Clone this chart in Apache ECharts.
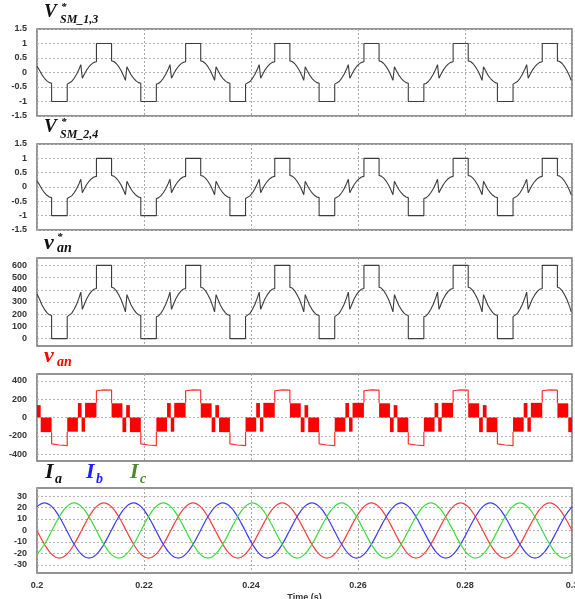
<!DOCTYPE html>
<html>
<head>
<meta charset="utf-8">
<script src="https://cdn.jsdelivr.net/npm/echarts@6/dist/echarts.min.js"></script>
<style>
  html, body { margin: 0; padding: 0; background: #fff; }
  #chart { width: 575px; height: 599px; }
</style>
</head>
<body>
<div id="chart"></div>
<script>
// time ticks and y ticks per panel
const timeTicks = [0.2, 0.22, 0.24, 0.26, 0.28, 0.3];
const vsmTicks = [-1.5, -1, -0.5, 0, 0.5, 1, 1.5];
const vanRefTicks = [0, 100, 200, 300, 400, 500, 600];
const vanTicks = [-400, -200, 0, 200, 400];
const currentTicks = [-30, -20, -10, 0, 10, 20, 30];

// sample times for the three reference traces (s)
const refTimes = [
  0.2,
  0.20014, 0.20046, 0.20093, 0.20139, 0.20185, 0.20231, 0.20273, 0.20273, 0.20565, 0.20565, 0.20602, 0.20648, 0.20694, 0.20741, 0.20787, 0.20819,
  0.20847, 0.2088, 0.20926, 0.20972, 0.21019, 0.21065, 0.21111, 0.21111, 0.21394, 0.21394, 0.21435, 0.21481, 0.21528, 0.21574, 0.2162, 0.21653,
  0.21681, 0.21713, 0.21759, 0.21806, 0.21852, 0.21898, 0.2194, 0.2194, 0.22231, 0.22231, 0.22269, 0.22315, 0.22361, 0.22407, 0.22454, 0.22486,
  0.22514, 0.22546, 0.22593, 0.22639, 0.22685, 0.22731, 0.22778, 0.22778, 0.2306, 0.2306, 0.23102, 0.23148, 0.23194, 0.23241, 0.23287, 0.23319,
  0.23347, 0.2338, 0.23426, 0.23472, 0.23519, 0.23565, 0.23606, 0.23606, 0.23898, 0.23898, 0.23935, 0.23981, 0.24028, 0.24074, 0.2412, 0.24153,
  0.24181, 0.24213, 0.24259, 0.24306, 0.24352, 0.24398, 0.24444, 0.24444, 0.24727, 0.24727, 0.24769, 0.24815, 0.24861, 0.24907, 0.24954, 0.24986,
  0.25014, 0.25046, 0.25093, 0.25139, 0.25185, 0.25231, 0.25273, 0.25273, 0.25565, 0.25565, 0.25602, 0.25648, 0.25694, 0.25741, 0.25787, 0.25819,
  0.25847, 0.2588, 0.25926, 0.25972, 0.26019, 0.26065, 0.26111, 0.26111, 0.26394, 0.26394, 0.26435, 0.26481, 0.26528, 0.26574, 0.2662, 0.26653,
  0.26681, 0.26713, 0.26759, 0.26806, 0.26852, 0.26898, 0.2694, 0.2694, 0.27231, 0.27231, 0.27269, 0.27315, 0.27361, 0.27407, 0.27454, 0.27486,
  0.27514, 0.27546, 0.27593, 0.27639, 0.27685, 0.27731, 0.27778, 0.27778, 0.2806, 0.2806, 0.28102, 0.28148, 0.28194, 0.28241, 0.28287, 0.28319,
  0.28347, 0.2838, 0.28426, 0.28472, 0.28519, 0.28565, 0.28606, 0.28606, 0.28898, 0.28898, 0.28935, 0.28981, 0.29028, 0.29074, 0.2912, 0.29153,
  0.29181, 0.29213, 0.29259, 0.29306, 0.29352, 0.29398, 0.29444, 0.29444, 0.29727, 0.29727, 0.29769, 0.29815, 0.29861, 0.29907, 0.29954, 0.29986
];

// V*SM_1,3
const vsm13 = [
  0.22,
  0.20, 0.08, -0.08, -0.20, -0.29, -0.35, -0.37, -1, -1, -0.40, -0.38, -0.31, -0.20, -0.06, 0.12, 0.27,
  -0.20, -0.08, 0.08, 0.20, 0.29, 0.35, 0.37, 1, 1, 0.40, 0.38, 0.31, 0.20, 0.06, -0.12, -0.27,
  0.20, 0.08, -0.08, -0.20, -0.29, -0.35, -0.37, -1, -1, -0.40, -0.38, -0.31, -0.20, -0.06, 0.12, 0.27,
  -0.20, -0.08, 0.08, 0.20, 0.29, 0.35, 0.37, 1, 1, 0.40, 0.38, 0.31, 0.20, 0.06, -0.12, -0.27,
  0.20, 0.08, -0.08, -0.20, -0.29, -0.35, -0.37, -1, -1, -0.40, -0.38, -0.31, -0.20, -0.06, 0.12, 0.27,
  -0.20, -0.08, 0.08, 0.20, 0.29, 0.35, 0.37, 1, 1, 0.40, 0.38, 0.31, 0.20, 0.06, -0.12, -0.27,
  0.20, 0.08, -0.08, -0.20, -0.29, -0.35, -0.37, -1, -1, -0.40, -0.38, -0.31, -0.20, -0.06, 0.12, 0.27,
  -0.20, -0.08, 0.08, 0.20, 0.29, 0.35, 0.37, 1, 1, 0.40, 0.38, 0.31, 0.20, 0.06, -0.12, -0.27,
  0.20, 0.08, -0.08, -0.20, -0.29, -0.35, -0.37, -1, -1, -0.40, -0.38, -0.31, -0.20, -0.06, 0.12, 0.27,
  -0.20, -0.08, 0.08, 0.20, 0.29, 0.35, 0.37, 1, 1, 0.40, 0.38, 0.31, 0.20, 0.06, -0.12, -0.27,
  0.20, 0.08, -0.08, -0.20, -0.29, -0.35, -0.37, -1, -1, -0.40, -0.38, -0.31, -0.20, -0.06, 0.12, 0.27,
  -0.20, -0.08, 0.08, 0.20, 0.29, 0.35, 0.37, 1, 1, 0.40, 0.38, 0.31, 0.20, 0.06, -0.12, -0.27
];

// V*SM_2,4
const vsm24 = [
  0.22,
  0.20, 0.08, -0.08, -0.20, -0.29, -0.35, -0.37, -1, -1, -0.40, -0.38, -0.31, -0.20, -0.06, 0.12, 0.27,
  -0.20, -0.08, 0.08, 0.20, 0.29, 0.35, 0.37, 1, 1, 0.40, 0.38, 0.31, 0.20, 0.06, -0.12, -0.27,
  0.20, 0.08, -0.08, -0.20, -0.29, -0.35, -0.37, -1, -1, -0.40, -0.38, -0.31, -0.20, -0.06, 0.12, 0.27,
  -0.20, -0.08, 0.08, 0.20, 0.29, 0.35, 0.37, 1, 1, 0.40, 0.38, 0.31, 0.20, 0.06, -0.12, -0.27,
  0.20, 0.08, -0.08, -0.20, -0.29, -0.35, -0.37, -1, -1, -0.40, -0.38, -0.31, -0.20, -0.06, 0.12, 0.27,
  -0.20, -0.08, 0.08, 0.20, 0.29, 0.35, 0.37, 1, 1, 0.40, 0.38, 0.31, 0.20, 0.06, -0.12, -0.27,
  0.20, 0.08, -0.08, -0.20, -0.29, -0.35, -0.37, -1, -1, -0.40, -0.38, -0.31, -0.20, -0.06, 0.12, 0.27,
  -0.20, -0.08, 0.08, 0.20, 0.29, 0.35, 0.37, 1, 1, 0.40, 0.38, 0.31, 0.20, 0.06, -0.12, -0.27,
  0.20, 0.08, -0.08, -0.20, -0.29, -0.35, -0.37, -1, -1, -0.40, -0.38, -0.31, -0.20, -0.06, 0.12, 0.27,
  -0.20, -0.08, 0.08, 0.20, 0.29, 0.35, 0.37, 1, 1, 0.40, 0.38, 0.31, 0.20, 0.06, -0.12, -0.27,
  0.20, 0.08, -0.08, -0.20, -0.29, -0.35, -0.37, -1, -1, -0.40, -0.38, -0.31, -0.20, -0.06, 0.12, 0.27,
  -0.20, -0.08, 0.08, 0.20, 0.29, 0.35, 0.37, 1, 1, 0.40, 0.38, 0.31, 0.20, 0.06, -0.12, -0.27
];

// v*an
const vanRef = [
  366,
  360, 324, 276, 240, 213, 195, 189, 0, 0, 180, 186, 207, 240, 282, 336, 381,
  240, 276, 324, 360, 387, 405, 411, 600, 600, 420, 414, 393, 360, 318, 264, 219,
  360, 324, 276, 240, 213, 195, 189, 0, 0, 180, 186, 207, 240, 282, 336, 381,
  240, 276, 324, 360, 387, 405, 411, 600, 600, 420, 414, 393, 360, 318, 264, 219,
  360, 324, 276, 240, 213, 195, 189, 0, 0, 180, 186, 207, 240, 282, 336, 381,
  240, 276, 324, 360, 387, 405, 411, 600, 600, 420, 414, 393, 360, 318, 264, 219,
  360, 324, 276, 240, 213, 195, 189, 0, 0, 180, 186, 207, 240, 282, 336, 381,
  240, 276, 324, 360, 387, 405, 411, 600, 600, 420, 414, 393, 360, 318, 264, 219,
  360, 324, 276, 240, 213, 195, 189, 0, 0, 180, 186, 207, 240, 282, 336, 381,
  240, 276, 324, 360, 387, 405, 411, 600, 600, 420, 414, 393, 360, 318, 264, 219,
  360, 324, 276, 240, 213, 195, 189, 0, 0, 180, 186, 207, 240, 282, 336, 381,
  240, 276, 324, 360, 387, 405, 411, 600, 600, 420, 414, 393, 360, 318, 264, 219
];

// v_an switching bands: [tStart, tEnd, low, high]
const vanBlocks = [
  [0.2, 0.20069, 0, 135], [0.20069, 0.20273, -160, 0], [0.20565, 0.20764, -155, 0], [0.20764, 0.20833, 0, 158],
  [0.20833, 0.20898, -155, 0], [0.20898, 0.21111, 0, 160], [0.21394, 0.21597, 0, 155], [0.21597, 0.21667, -160, 0],
  [0.21667, 0.21736, 0, 135], [0.21736, 0.2194, -160, 0], [0.22231, 0.22431, -155, 0], [0.22431, 0.225, 0, 158],
  [0.225, 0.22565, -155, 0], [0.22565, 0.22778, 0, 160], [0.2306, 0.23264, 0, 155], [0.23264, 0.23333, -160, 0],
  [0.23333, 0.23403, 0, 135], [0.23403, 0.23606, -160, 0], [0.23898, 0.24097, -155, 0], [0.24097, 0.24167, 0, 158],
  [0.24167, 0.24231, -155, 0], [0.24231, 0.24444, 0, 160], [0.24727, 0.2493, 0, 155], [0.2493, 0.25, -160, 0],
  [0.25, 0.25069, 0, 135], [0.25069, 0.25273, -160, 0], [0.25565, 0.25764, -155, 0], [0.25764, 0.25833, 0, 158],
  [0.25833, 0.25898, -155, 0], [0.25898, 0.26111, 0, 160], [0.26394, 0.26597, 0, 155], [0.26597, 0.26667, -160, 0],
  [0.26667, 0.26736, 0, 135], [0.26736, 0.2694, -160, 0], [0.27231, 0.27431, -155, 0], [0.27431, 0.275, 0, 158],
  [0.275, 0.27565, -155, 0], [0.27565, 0.27778, 0, 160], [0.2806, 0.28264, 0, 155], [0.28264, 0.28333, -160, 0],
  [0.28333, 0.28403, 0, 135], [0.28403, 0.28606, -160, 0], [0.28898, 0.29097, -155, 0], [0.29097, 0.29167, 0, 158],
  [0.29167, 0.29231, -155, 0], [0.29231, 0.29444, 0, 160], [0.29727, 0.2993, 0, 155], [0.2993, 0.3, -160, 0]
];

// v_an flat parts (null = break)
const vanLineTimes = [
  0.20273, 0.20273, 0.20417, 0.20565, 0.20565, 0.20565, 0.21111, 0.21111, 0.2125, 0.21394, 0.21394, 0.21394,
  0.2194, 0.2194, 0.22083, 0.22231, 0.22231, 0.22231, 0.22778, 0.22778, 0.22917, 0.2306, 0.2306, 0.2306,
  0.23606, 0.23606, 0.2375, 0.23898, 0.23898, 0.23898, 0.24444, 0.24444, 0.24583, 0.24727, 0.24727, 0.24727,
  0.25273, 0.25273, 0.25417, 0.25565, 0.25565, 0.25565, 0.26111, 0.26111, 0.2625, 0.26394, 0.26394, 0.26394,
  0.2694, 0.2694, 0.27083, 0.27231, 0.27231, 0.27231, 0.27778, 0.27778, 0.27917, 0.2806, 0.2806, 0.2806,
  0.28606, 0.28606, 0.2875, 0.28898, 0.28898, 0.28898, 0.29444, 0.29444, 0.29583, 0.29727, 0.29727, 0.29727
];
const vanLineValues = [
  -160, -288, -300, -308, -155, null, 160, 292, 302, 298, 155, null,
  -160, -288, -300, -308, -155, null, 160, 292, 302, 298, 155, null,
  -160, -288, -300, -308, -155, null, 160, 292, 302, 298, 155, null,
  -160, -288, -300, -308, -155, null, 160, 292, 302, 298, 155, null,
  -160, -288, -300, -308, -155, null, 160, 292, 302, 298, 155, null,
  -160, -288, -300, -308, -155, null, 160, 292, 302, 298, 155, null
];

// phase currents
const currentTimes = [
  0.2, 0.20139, 0.20278, 0.20417, 0.20556, 0.20694, 0.20833, 0.20972, 0.21111, 0.2125, 0.21389, 0.21528,
  0.21667, 0.21806, 0.21944, 0.22083, 0.22222, 0.22361, 0.225, 0.22639, 0.22778, 0.22917, 0.23056, 0.23194,
  0.23333, 0.23472, 0.23611, 0.2375, 0.23889, 0.24028, 0.24167, 0.24306, 0.24444, 0.24583, 0.24722, 0.24861,
  0.25, 0.25139, 0.25278, 0.25417, 0.25556, 0.25694, 0.25833, 0.25972, 0.26111, 0.2625, 0.26389, 0.26528,
  0.26667, 0.26806, 0.26944, 0.27083, 0.27222, 0.27361, 0.275, 0.27639, 0.27778, 0.27917, 0.28056, 0.28194,
  0.28333, 0.28472, 0.28611, 0.2875, 0.28889, 0.29028, 0.29167, 0.29306, 0.29444, 0.29583, 0.29722, 0.29861,
  0.3
];
const ia = [
  0, -12, -20.8, -24, -20.8, -12, 0, 12, 20.8, 24, 20.8, 12,
  0, -12, -20.8, -24, -20.8, -12, 0, 12, 20.8, 24, 20.8, 12,
  0, -12, -20.8, -24, -20.8, -12, 0, 12, 20.8, 24, 20.8, 12,
  0, -12, -20.8, -24, -20.8, -12, 0, 12, 20.8, 24, 20.8, 12,
  0, -12, -20.8, -24, -20.8, -12, 0, 12, 20.8, 24, 20.8, 12,
  0, -12, -20.8, -24, -20.8, -12, 0, 12, 20.8, 24, 20.8, 12,
  0
];
const ib = [
  20.8, 24, 20.8, 12, 0, -12, -20.8, -24, -20.8, -12, 0, 12,
  20.8, 24, 20.8, 12, 0, -12, -20.8, -24, -20.8, -12, 0, 12,
  20.8, 24, 20.8, 12, 0, -12, -20.8, -24, -20.8, -12, 0, 12,
  20.8, 24, 20.8, 12, 0, -12, -20.8, -24, -20.8, -12, 0, 12,
  20.8, 24, 20.8, 12, 0, -12, -20.8, -24, -20.8, -12, 0, 12,
  20.8, 24, 20.8, 12, 0, -12, -20.8, -24, -20.8, -12, 0, 12,
  20.8
];
const ic = [
  -20.8, -12, 0, 12, 20.8, 24, 20.8, 12, 0, -12, -20.8, -24,
  -20.8, -12, 0, 12, 20.8, 24, 20.8, 12, 0, -12, -20.8, -24,
  -20.8, -12, 0, 12, 20.8, 24, 20.8, 12, 0, -12, -20.8, -24,
  -20.8, -12, 0, 12, 20.8, 24, 20.8, 12, 0, -12, -20.8, -24,
  -20.8, -12, 0, 12, 20.8, 24, 20.8, 12, 0, -12, -20.8, -24,
  -20.8, -12, 0, 12, 20.8, 24, 20.8, 12, 0, -12, -20.8, -24,
  -20.8
];

const chart = echarts.init(document.getElementById('chart'), null, { renderer: 'canvas' });

const serif = '"Liberation Serif", "DejaVu Serif", serif';
const labelFont = { fontFamily: '"Liberation Sans", Arial, sans-serif', fontSize: 9, fontWeight: 'bold', color: '#333' };

const grids = [
  { left: 37, top: 29, width: 535, height: 87 },
  { left: 37, top: 144, width: 535, height: 86 },
  { left: 37, top: 258, width: 535, height: 88 },
  { left: 37, top: 374, width: 535, height: 87 },
  { left: 37, top: 488, width: 535, height: 85 }
].map(g => Object.assign(g, {
  show: true, borderColor: '#707070', borderWidth: 1.5, backgroundColor: '#fff',
  containLabel: false, outerBoundsMode: 'none'
}));

const yRanges = [[-1.5, 1.5], [-1.5, 1.5], [-60, 660], [-475, 475], [-37, 37]];
const yTickSets = [vsmTicks, vsmTicks, vanRefTicks, vanTicks, currentTicks];

const xAxes = grids.map((g, i) => ({
  type: 'value', gridIndex: i, min: 0.2, max: 0.3, interval: 0.02,
  axisLine: { show: false }, axisTick: { show: false, customValues: timeTicks },
  axisLabel: Object.assign({ show: i === 4, margin: 8, customValues: timeTicks, formatter: v => String(Math.round(v * 100) / 100) }, labelFont),
  splitLine: { show: true, lineStyle: { color: '#a8a8a8', type: [2, 2], width: 1 } },
  name: i === 4 ? 'Time (s)' : '', nameLocation: 'middle', nameGap: 20,
  nameTextStyle: { fontFamily: '"Liberation Sans", Arial, sans-serif', fontSize: 9, fontWeight: 'bold', color: '#333' }
}));

const yAxes = grids.map((g, i) => ({
  type: 'value', gridIndex: i, min: yRanges[i][0], max: yRanges[i][1],
  axisLine: { show: false },
  axisTick: { show: false, customValues: yTickSets[i] },
  axisLabel: Object.assign({ margin: 10, customValues: yTickSets[i] }, labelFont),
  splitLine: { show: true, lineStyle: { color: '#b4b4b4', type: [2, 2], width: 1 } }
}));

const pair = (ts, vs) => ts.map((t, k) => [t, vs[k] === null ? '-' : vs[k]]);
const lineBase = { type: 'line', symbol: 'none', animation: false, silent: true };

const series = [
  Object.assign({}, lineBase, { xAxisIndex: 0, yAxisIndex: 0, data: pair(refTimes, vsm13), lineStyle: { color: '#3c3c3c', width: 1.1 } }),
  Object.assign({}, lineBase, { xAxisIndex: 1, yAxisIndex: 1, data: pair(refTimes, vsm24), lineStyle: { color: '#3c3c3c', width: 1.1 } }),
  Object.assign({}, lineBase, { xAxisIndex: 2, yAxisIndex: 2, data: pair(refTimes, vanRef), lineStyle: { color: '#3c3c3c', width: 1.1 } }),
  {
    type: 'custom', xAxisIndex: 3, yAxisIndex: 3, animation: false, silent: true, clip: true,
    encode: { x: [0, 1], y: [2, 3] },
    data: vanBlocks,
    renderItem: (params, api) => {
      const a = api.coord([api.value(0), api.value(3)]);
      const b = api.coord([api.value(1), api.value(2)]);
      return { type: 'rect', shape: { x: a[0], y: a[1], width: b[0] - a[0], height: b[1] - a[1] }, style: { fill: '#ff0000' } };
    }
  },
  Object.assign({}, lineBase, { xAxisIndex: 3, yAxisIndex: 3, data: pair(vanLineTimes, vanLineValues), connectNulls: false, lineStyle: { color: '#ff3030', width: 1.2 } }),
  Object.assign({}, lineBase, { xAxisIndex: 4, yAxisIndex: 4, data: pair(currentTimes, ia), smooth: 0.4, lineStyle: { color: '#ff3c3c', width: 1.2 } }),
  Object.assign({}, lineBase, { xAxisIndex: 4, yAxisIndex: 4, data: pair(currentTimes, ib), smooth: 0.4, lineStyle: { color: '#3c3cff', width: 1.2 } }),
  Object.assign({}, lineBase, { xAxisIndex: 4, yAxisIndex: 4, data: pair(currentTimes, ic), smooth: 0.4, lineStyle: { color: '#3cdc3c', width: 1.2 } })
];

function t(x, y, text, size, fill) {
  return {
    type: 'text', x: x, y: y, silent: true,
    style: { text: text, fontFamily: serif, fontSize: size, fontWeight: 'bold', fontStyle: 'italic', fill: fill, align: 'left', verticalAlign: 'middle' }
  };
}

const graphic = [
  t(44, 12, 'V', 19, '#111'), t(61, 7, '*', 11, '#111'), t(60, 20, 'SM_1,3', 12, '#111'),
  t(44, 127, 'V', 19, '#111'), t(61, 122, '*', 11, '#111'), t(60, 135, 'SM_2,4', 12, '#111'),
  t(44, 243, 'v', 22, '#111'), t(57, 237, '*', 11, '#111'), t(57, 248, 'an', 14, '#111'),
  t(44, 356, 'v', 22, '#ff0000'), t(57, 362, 'an', 14, '#ff0000'),
  t(45, 472, 'I', 22, '#111'), t(55, 479, 'a', 14, '#111'),
  t(86, 472, 'I', 22, '#2020ff'), t(96, 479, 'b', 14, '#2020ff'),
  t(130, 472, 'I', 22, '#4a8c2a'), t(140, 479, 'c', 14, '#4a8c2a')
];

chart.setOption({
  animation: false,
  backgroundColor: '#fff',
  grid: grids,
  xAxis: xAxes,
  yAxis: yAxes,
  series: series,
  graphic: graphic
});
</script>
</body>
</html>
